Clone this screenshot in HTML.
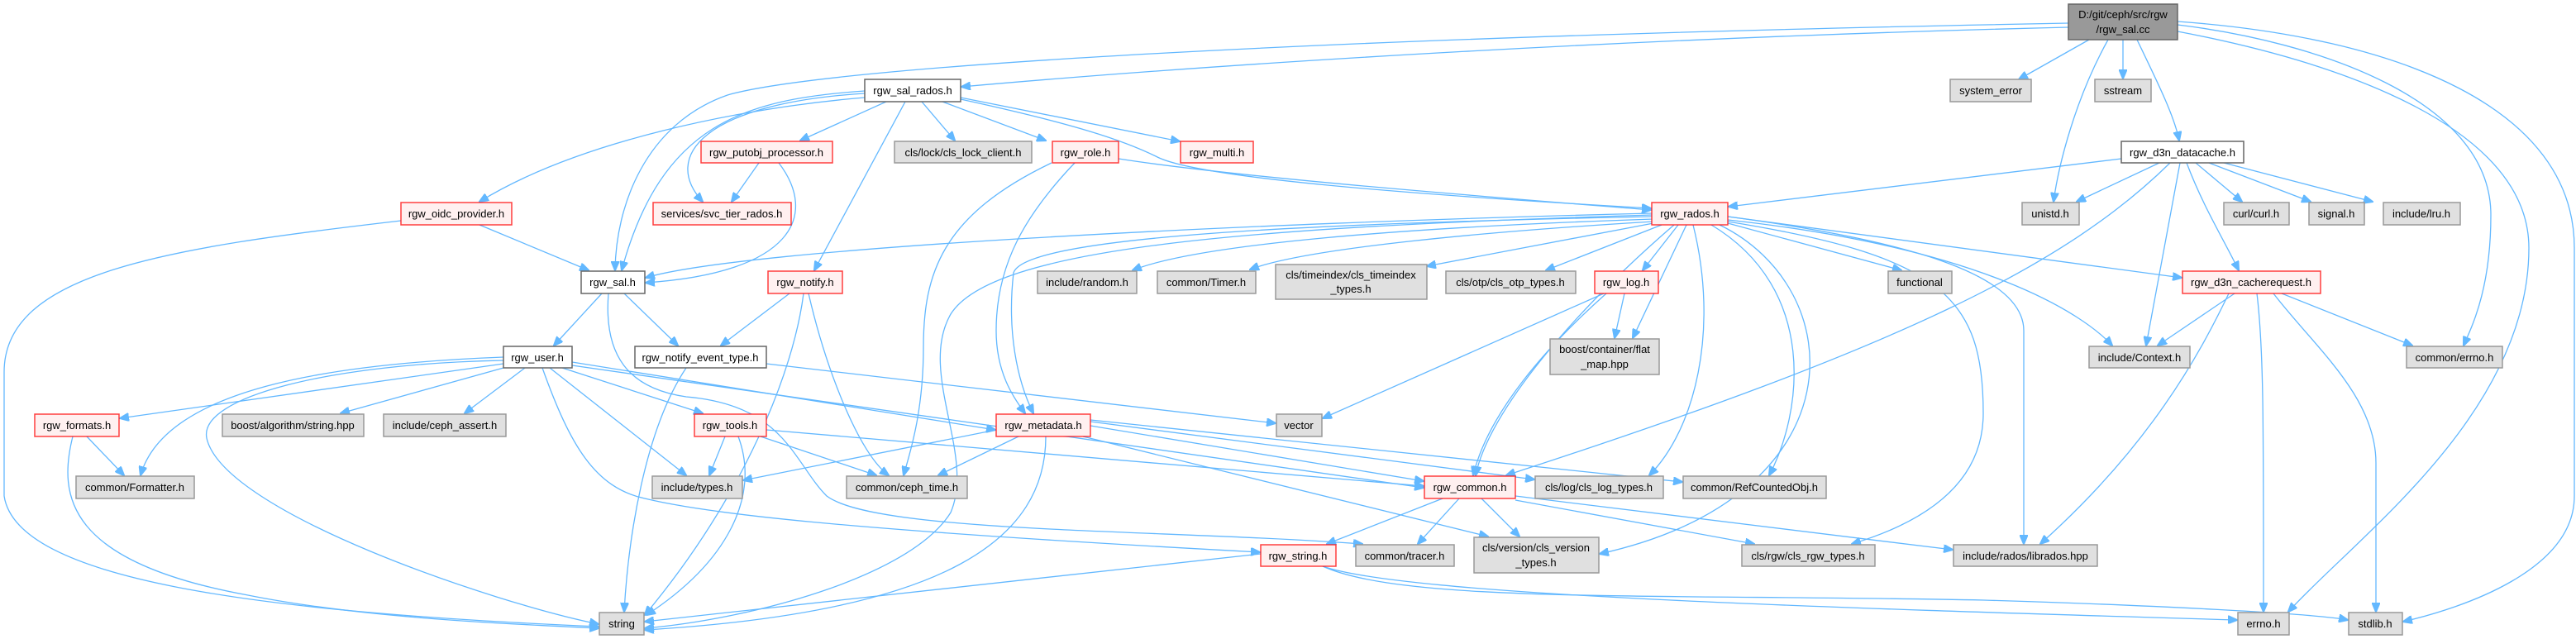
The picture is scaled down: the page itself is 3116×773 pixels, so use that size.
<!DOCTYPE html>
<html><head><meta charset="utf-8"><style>
html,body{margin:0;padding:0;background:#fff;}
svg{display:block;}
text{font-family:"Liberation Sans",sans-serif;font-size:13px;fill:#000;}
.g{fill:#e0e0e0;stroke:#999;stroke-width:1.5}
.r{fill:#fff0f0;stroke:#f00;stroke-width:1.5;stroke-opacity:.75}
.w{fill:#fff;stroke:#666;stroke-width:1.5}
.root{fill:#999;stroke:#666;stroke-width:1.5}
path{fill:none;stroke:#63b8ff;stroke-width:1.3}
</style></head><body>
<svg width="3116" height="773" viewBox="0 0 3116 773" xmlns="http://www.w3.org/2000/svg">
<defs><marker id="a" markerWidth="12" markerHeight="10" refX="11" refY="5" orient="auto" markerUnits="userSpaceOnUse"><path d="M0,0 L12,5 L0,10 z" style="fill:#63b8ff;stroke:#63b8ff"/></marker></defs>
<g marker-end="url(#a)">
<!-- root -->
<path d="M2502,33 C2000,45 1500,75 1163,105"/>
<path d="M2502,28 C1600,45 1000,80 880,115 C780,150 745,250 744,327"/>
<path d="M2527,48 L2442,96"/>
<path d="M2568,48 L2568,95"/>
<path d="M2550,48 C2510,120 2490,200 2484,244"/>
<path d="M2585,48 C2610,100 2630,140 2636,170"/>
<path d="M2634,30 C2800,50 3013,120 3013,260 C3013,350 2990,395 2980,418"/>
<path d="M2634,38 C2750,60 3059,130 3059,300 C3059,500 2850,650 2768,740"/>
<path d="M2634,26 C2900,45 3114,130 3114,300 L3114,600 C3114,690 2980,735 2907,752"/>
<!-- datacache -->
<path d="M2566,192 L2091,250"/>
<path d="M2612,197 L2512,244"/>
<path d="M2625,197 C2500,320 2300,420 1822,575"/>
<path d="M2637,197 L2596,418"/>
<path d="M2656,197 L2712,244"/>
<path d="M2672,197 L2795,244"/>
<path d="M2690,197 L2870,244"/>
<path d="M2645,197 C2665,250 2690,290 2708,327"/>
<!-- cacherequest -->
<path d="M2703,355 L2610,418"/>
<path d="M2730,355 C2738,420 2738,500 2738,740"/>
<path d="M2750,355 C2800,420 2874,480 2874,560 L2874,740"/>
<path d="M2760,355 L2918,418"/>
<path d="M2696,355 C2660,430 2600,540 2468,658"/>
<!-- sal_rados -->
<path d="M1162,120 C1300,150 1360,170 1400,190 C1450,215 1700,235 1997,252"/>
<path d="M1072,123 L968,170"/>
<path d="M1115,123 L1155,170"/>
<path d="M1140,123 L1265,170"/>
<path d="M1162,118 L1427,171"/>
<path d="M1046,113 C850,125 800,190 850,244"/>
<path d="M1046,118 C900,130 700,170 580,244"/>
<path d="M1046,110 C900,120 800,150 752,327"/>
<path d="M1095,123 L985,327"/>
<!-- putobj -->
<path d="M918,197 L885,244"/>
<path d="M942,197 C990,260 960,330 781,342"/>
<!-- role -->
<path d="M1353,192 C1500,215 1800,238 1997,254"/>
<path d="M1300,197 C1240,260 1205,320 1205,400 C1205,450 1225,480 1240,500"/>
<path d="M1272,197 C1140,260 1117,330 1117,420 C1117,500 1100,550 1093,575"/>
<!-- oidc -->
<path d="M580,272 L712,327"/>
<path d="M485,267 C200,300 5,330 5,450 L5,600 C20,700 300,740 724,758"/>
<!-- rgw_sal -->
<path d="M728,355 L670,418"/>
<path d="M755,355 L820,418"/>
<path d="M736,355 C730,430 760,470 830,480 C950,490 960,560 1000,600 C1060,645 1400,640 1648,658"/>
<!-- notify -->
<path d="M955,355 L872,418"/>
<path d="M972,355 C960,450 900,600 780,744"/>
<path d="M978,355 C1000,450 1040,550 1075,575"/>
<!-- notify_event -->
<path d="M927,440 L1543,512"/>
<path d="M830,445 C780,520 760,650 755,740"/>
<!-- rgw_user -->
<path d="M609,440 L145,506"/>
<path d="M609,432 C400,440 200,470 170,575"/>
<path d="M609,445 L412,500"/>
<path d="M635,445 L562,500"/>
<path d="M609,436 C400,440 240,480 250,530 C270,620 600,730 724,755"/>
<path d="M665,445 L830,575"/>
<path d="M680,445 L850,500"/>
<path d="M692,438 L1204,520"/>
<path d="M692,442 L1722,590"/>
<path d="M656,445 C690,540 720,590 780,603 C850,620 1000,640 1524,668"/>
<!-- formats -->
<path d="M105,528 L150,575"/>
<path d="M88,528 C70,600 80,680 300,720 C450,750 650,756 724,760"/>
<!-- tools -->
<path d="M877,528 L858,575"/>
<path d="M920,528 L1060,575"/>
<path d="M927,520 L1722,588"/>
<path d="M893,528 C920,600 880,680 782,744"/>
<!-- metadata -->
<path d="M1205,520 L899,581"/>
<path d="M1232,528 L1135,575"/>
<path d="M1265,528 C1265,650 1150,740 780,762"/>
<path d="M1319,515 L1722,582"/>
<path d="M1319,510 L1856,580"/>
<path d="M1319,508 L2035,583"/>
<path d="M1310,528 L1800,649"/>
<!-- rados -->
<path d="M1998,258 C1500,270 900,300 781,336"/>
<path d="M2000,265 C1700,275 1450,295 1370,327"/>
<path d="M2000,268 C1800,280 1580,300 1512,326"/>
<path d="M2000,270 L1726,322"/>
<path d="M2010,272 L1870,327"/>
<path d="M2030,272 L1987,327"/>
<path d="M2090,270 L2300,327"/>
<path d="M1998,262 C1600,270 1240,285 1226,330 C1218,400 1230,460 1250,500"/>
<path d="M1998,260 C1500,275 1200,300 1150,380 C1110,450 1180,550 1150,620 C1100,700 900,750 780,760"/>
<path d="M2025,272 C1900,380 1800,500 1785,575"/>
<path d="M2040,272 L1975,409"/>
<path d="M2048,272 C2080,400 2050,520 1995,575"/>
<path d="M2070,272 C2200,350 2180,500 2140,575"/>
<path d="M2080,272 C2240,350 2250,600 1935,670"/>
<path d="M2090,268 C2350,310 2399,360 2399,500 C2399,600 2300,640 2240,658"/>
<path d="M2090,262 C2300,290 2448,330 2448,400 L2448,658"/>
<path d="M2090,266 C2400,300 2520,380 2555,418"/>
<path d="M2090,262 L2639,336"/>
<!-- log -->
<path d="M1940,355 L1600,506"/>
<path d="M1965,355 L1953,409"/>
<path d="M1943,355 C1870,420 1800,500 1782,575"/>
<!-- common -->
<path d="M1745,603 L1605,658"/>
<path d="M1765,603 L1715,658"/>
<path d="M1792,603 L1838,649"/>
<path d="M1833,605 L2122,658"/>
<path d="M1833,600 L2362,665"/>
<!-- rgw_string -->
<path d="M1525,670 L780,752"/>
<path d="M1600,685 C1700,720 2200,735 2706,750"/>
<path d="M1600,685 C1700,730 2000,718 2400,726 C2600,732 2800,742 2840,750"/>
</g>
<!-- nodes -->
<rect class="root" x="2502" y="5" width="132" height="43"/><text x="2568" y="22" text-anchor="middle">D:/git/ceph/src/rgw</text><text x="2568" y="40" text-anchor="middle">/rgw_sal.cc</text>
<rect class="w" x="1046" y="96" width="116" height="27"/><text x="1104" y="114" text-anchor="middle">rgw_sal_rados.h</text>
<rect class="r" x="485" y="245" width="134" height="27"/><text x="552" y="263" text-anchor="middle">rgw_oidc_provider.h</text>
<rect class="w" x="703" y="328" width="77" height="27"/><text x="741" y="346" text-anchor="middle">rgw_sal.h</text>
<rect class="w" x="609" y="419" width="83" height="26"/><text x="650" y="437" text-anchor="middle">rgw_user.h</text>
<rect class="r" x="42" y="501" width="102" height="27"/><text x="93" y="519" text-anchor="middle">rgw_formats.h</text>
<rect class="g" x="269" y="501" width="171" height="27"/><text x="354" y="519" text-anchor="middle">boost/algorithm/string.hpp</text>
<rect class="g" x="464" y="501" width="148" height="27"/><text x="538" y="519" text-anchor="middle">include/ceph_assert.h</text>
<rect class="g" x="92" y="576" width="143" height="27"/><text x="163" y="594" text-anchor="middle">common/Formatter.h</text>
<rect class="g" x="725" y="741" width="54" height="27"/><text x="752" y="759" text-anchor="middle">string</text>
<rect class="r" x="848" y="171" width="159" height="26"/><text x="927" y="189" text-anchor="middle">rgw_putobj_processor.h</text>
<rect class="g" x="1082" y="171" width="166" height="26"/><text x="1165" y="189" text-anchor="middle">cls/lock/cls_lock_client.h</text>
<rect class="r" x="1273" y="171" width="80" height="26"/><text x="1313" y="189" text-anchor="middle">rgw_role.h</text>
<rect class="r" x="1428" y="171" width="88" height="26"/><text x="1472" y="189" text-anchor="middle">rgw_multi.h</text>
<rect class="r" x="790" y="245" width="167" height="27"/><text x="873" y="263" text-anchor="middle">services/svc_tier_rados.h</text>
<rect class="r" x="929" y="328" width="90" height="27"/><text x="974" y="346" text-anchor="middle">rgw_notify.h</text>
<rect class="g" x="1255" y="328" width="120" height="27"/><text x="1315" y="346" text-anchor="middle">include/random.h</text>
<rect class="g" x="1400" y="328" width="119" height="27"/><text x="1459" y="346" text-anchor="middle">common/Timer.h</text>
<rect class="g" x="1543" y="320" width="183" height="42"/><text x="1634" y="337" text-anchor="middle">cls/timeindex/cls_timeindex</text><text x="1634" y="354" text-anchor="middle">_types.h</text>
<rect class="g" x="1749" y="328" width="157" height="27"/><text x="1827" y="346" text-anchor="middle">cls/otp/cls_otp_types.h</text>
<rect class="r" x="1929" y="328" width="77" height="27"/><text x="1967" y="346" text-anchor="middle">rgw_log.h</text>
<rect class="g" x="2284" y="328" width="77" height="27"/><text x="2322" y="346" text-anchor="middle">functional</text>
<rect class="r" x="1998" y="245" width="92" height="27"/><text x="2044" y="263" text-anchor="middle">rgw_rados.h</text>
<rect class="w" x="768" y="419" width="159" height="26"/><text x="847" y="437" text-anchor="middle">rgw_notify_event_type.h</text>
<rect class="r" x="840" y="501" width="87" height="27"/><text x="883" y="519" text-anchor="middle">rgw_tools.h</text>
<rect class="g" x="789" y="576" width="109" height="27"/><text x="843" y="594" text-anchor="middle">include/types.h</text>
<rect class="g" x="1024" y="576" width="146" height="27"/><text x="1097" y="594" text-anchor="middle">common/ceph_time.h</text>
<rect class="r" x="1205" y="501" width="114" height="27"/><text x="1262" y="519" text-anchor="middle">rgw_metadata.h</text>
<rect class="g" x="1544" y="501" width="55" height="27"/><text x="1571" y="519" text-anchor="middle">vector</text>
<rect class="g" x="1875" y="410" width="132" height="43"/><text x="1941" y="427" text-anchor="middle">boost/container/flat</text><text x="1941" y="445" text-anchor="middle">_map.hpp</text>
<rect class="r" x="1723" y="576" width="110" height="27"/><text x="1778" y="594" text-anchor="middle">rgw_common.h</text>
<rect class="g" x="1857" y="576" width="155" height="27"/><text x="1934" y="594" text-anchor="middle">cls/log/cls_log_types.h</text>
<rect class="g" x="2036" y="576" width="173" height="27"/><text x="2122" y="594" text-anchor="middle">common/RefCountedObj.h</text>
<rect class="r" x="1525" y="659" width="91" height="26"/><text x="1570" y="677" text-anchor="middle">rgw_string.h</text>
<rect class="g" x="1640" y="659" width="119" height="26"/><text x="1699" y="677" text-anchor="middle">common/tracer.h</text>
<rect class="g" x="1783" y="650" width="151" height="43"/><text x="1858" y="667" text-anchor="middle">cls/version/cls_version</text><text x="1858" y="685" text-anchor="middle">_types.h</text>
<rect class="g" x="2107" y="659" width="161" height="26"/><text x="2187" y="677" text-anchor="middle">cls/rgw/cls_rgw_types.h</text>
<rect class="g" x="2359" y="96" width="98" height="27"/><text x="2408" y="114" text-anchor="middle">system_error</text>
<rect class="g" x="2534" y="96" width="68" height="27"/><text x="2568" y="114" text-anchor="middle">sstream</text>
<rect class="w" x="2566" y="171" width="148" height="26"/><text x="2640" y="189" text-anchor="middle">rgw_d3n_datacache.h</text>
<rect class="g" x="2446" y="245" width="69" height="27"/><text x="2480" y="263" text-anchor="middle">unistd.h</text>
<rect class="g" x="2690" y="245" width="79" height="27"/><text x="2729" y="263" text-anchor="middle">curl/curl.h</text>
<rect class="g" x="2793" y="245" width="67" height="27"/><text x="2826" y="263" text-anchor="middle">signal.h</text>
<rect class="g" x="2883" y="245" width="93" height="27"/><text x="2929" y="263" text-anchor="middle">include/lru.h</text>
<rect class="r" x="2640" y="328" width="167" height="27"/><text x="2723" y="346" text-anchor="middle">rgw_d3n_cacherequest.h</text>
<rect class="g" x="2527" y="419" width="122" height="26"/><text x="2588" y="437" text-anchor="middle">include/Context.h</text>
<rect class="g" x="2911" y="419" width="116" height="26"/><text x="2969" y="437" text-anchor="middle">common/errno.h</text>
<rect class="g" x="2363" y="659" width="174" height="26"/><text x="2450" y="677" text-anchor="middle">include/rados/librados.hpp</text>
<rect class="g" x="2707" y="741" width="62" height="27"/><text x="2738" y="759" text-anchor="middle">errno.h</text>
<rect class="g" x="2841" y="741" width="65" height="27"/><text x="2873" y="759" text-anchor="middle">stdlib.h</text>
</svg>
</body></html>
